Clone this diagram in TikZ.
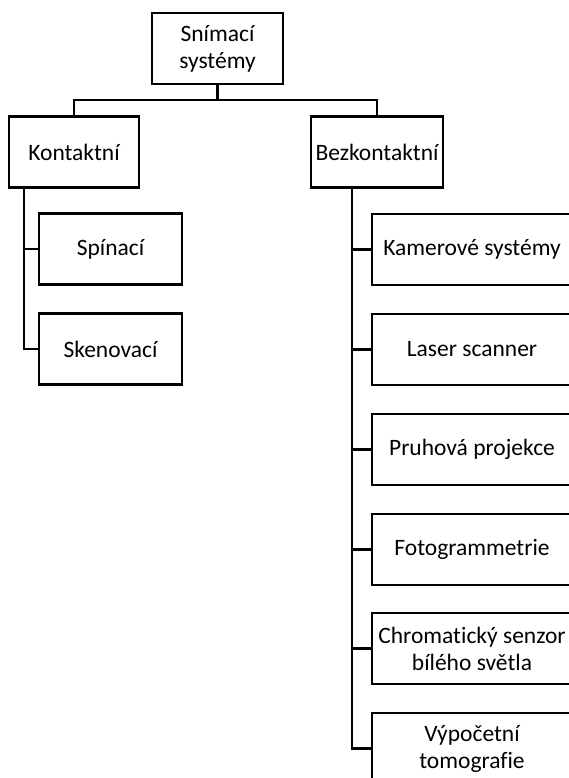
\documentclass[tikz,border=0pt]{standalone}
\usepackage{fontspec}
\setmainfont[Ligatures=CommonOff]{Carlito}
\begin{document}
\begin{tikzpicture}[x = 1pt, y = -1pt,
		box/.style = {draw, line width = 2.8pt, rectangle, inner sep = 0pt, align = center,
			minimum height = 71pt, font = \fontsize{23.5}{27}\selectfont},
		link/.style = {line width = 2.8pt}]
					\useasboundingbox (0, 0) rectangle (568, 778);
					% top level
					\node[box, minimum width = 131pt] (root) at (217.5, 48.5) {Snímací\\systémy};
					\node[box, minimum width = 130pt] (kont) at (74, 152) {Kontaktní};
					\node[box, minimum width = 132pt] (bez) at (377, 152) {Bezkontaktní};
					% contact probes
					\node[box, minimum width = 143pt] (spin) at (110.5, 249) {Spínací};
					\node[box, minimum width = 143pt] (sken) at (110.5, 349) {Skenovací};
					% non-contact methods
					\node[box, minimum width = 200pt] (kam) at (472, 249.5) {Kamerové systémy};
					\node[box, minimum width = 200pt] (las) at (472, 349.5) {Laser scanner};
					\node[box, minimum width = 200pt] (pru) at (472, 449.5) {Pruhová projekce};
					\node[box, minimum width = 200pt] (foto) at (472, 549.5) {Fotogrammetrie};
					\node[box, minimum width = 200pt] (chrom) at (472, 648.5) {Chromatický senzor\\bílého světla};
					\node[box, minimum width = 200pt] (ct) at (472, 748.5) {Výpočetní\\tomografie};
					% branches from the root
					\coordinate (bar) at (0, 100);
					\draw[link] (root.south) -- (root.south |- bar) -| (kont.north);
					\draw[link] (root.south |- bar) -| (bez.north);
					% left trunk
					\coordinate (ltrunk) at (24, 0);
					\draw[link] (ltrunk |- kont.south) |- (sken.west);
					\draw[link] (ltrunk |- spin.west) -- (spin.west);
					% right trunk
					\coordinate (rtrunk) at (352, 0);
					\draw[link] (rtrunk |- bez.south) |- (ct.west);
					\foreach \n in {kam, las, pru, foto, chrom}
						\draw[link] (rtrunk |- \n.west) -- (\n.west);
				\end{tikzpicture}
\end{document}
